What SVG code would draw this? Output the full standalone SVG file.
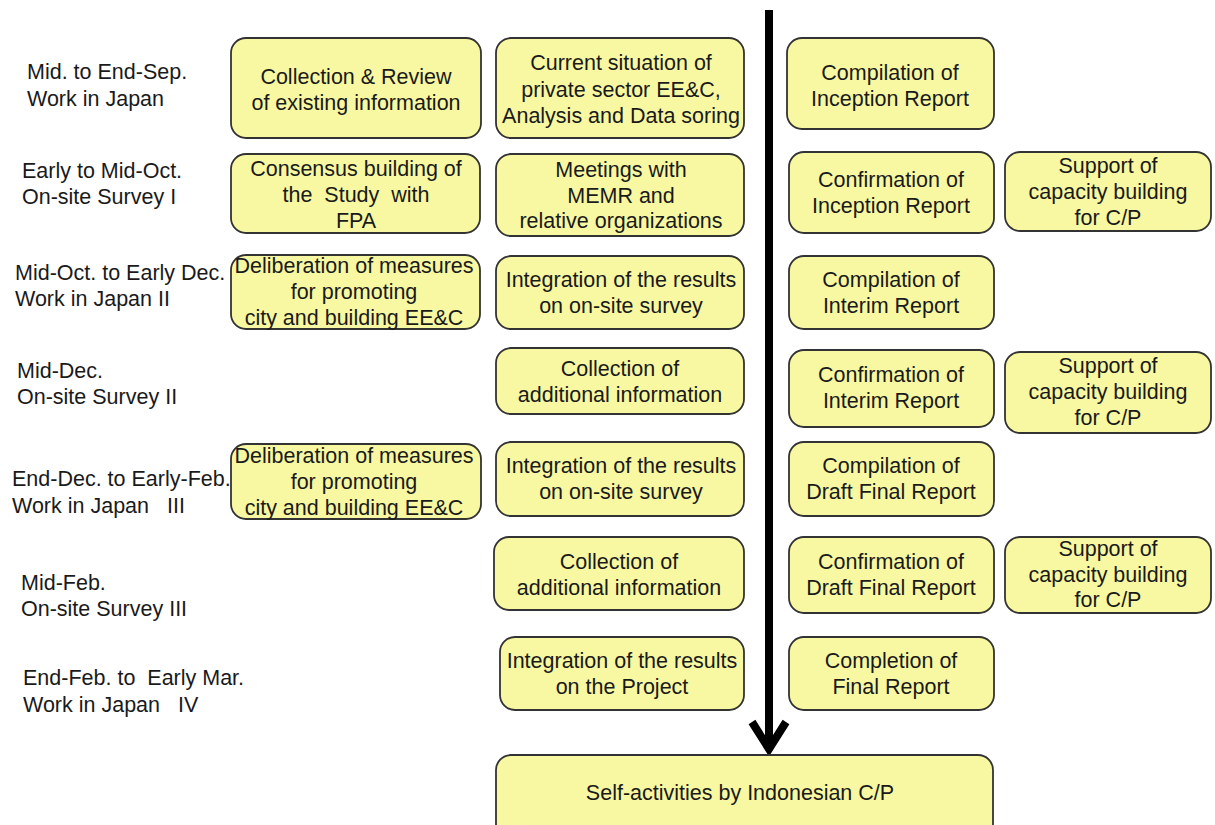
<svg xmlns="http://www.w3.org/2000/svg" width="1215" height="825" viewBox="0 0 1215 825">
<style>
.b{fill:#F8F8A2;stroke:#333;stroke-width:1.8}
text{font-family:"Liberation Sans",Arial,sans-serif;font-size:21.5px;fill:#1a1a1a}
.c{text-anchor:middle}
</style>
<rect width="1215" height="825" fill="#fff"/>
<g id="labels">
<text x="27" y="79">Mid. to End-Sep.</text><text x="27" y="106">Work in Japan</text>
<text x="22" y="178">Early to Mid-Oct.</text><text x="22" y="204">On-site Survey I</text>
<text x="15" y="280">Mid-Oct. to Early Dec.</text><text x="15" y="306">Work in Japan II</text>
<text x="17" y="378">Mid-Dec.</text><text x="17" y="404">On-site Survey II</text>
<text x="12" y="486">End-Dec. to Early-Feb.</text><text x="12" y="513" xml:space="preserve">Work in Japan   III</text>
<text x="21" y="590">Mid-Feb.</text><text x="21" y="616">On-site Survey III</text>
<text x="23" y="685" xml:space="preserve">End-Feb. to  Early Mar.</text><text x="23" y="712" xml:space="preserve">Work in Japan   IV</text>
</g>
<g id="connectors">
<line x1="769" y1="10" x2="769" y2="746" stroke="#000" stroke-width="8"/>
<path d="M752 722 L769 749 L786 722" fill="none" stroke="#000" stroke-width="8" stroke-linejoin="miter"/>
</g>
<g id="n1"><rect class="b" x="231" y="38" width="250" height="100" rx="15"/><text class="c" x="356" y="84">Collection &amp; Review</text><text class="c" x="356" y="110">of existing information</text></g>
<g id="n2"><rect class="b" x="231" y="154" width="249" height="79" rx="15"/><text class="c" x="356" y="176">Consensus building of</text><text class="c" x="356" y="202" xml:space="preserve">the  Study  with</text><text class="c" x="356" y="228">FPA</text></g>
<g id="n3"><rect class="b" x="231" y="255" width="249" height="74" rx="15"/><text class="c" x="354" y="273">Deliberation of measures</text><text class="c" x="354" y="299">for promoting</text><text class="c" x="354" y="325">city and building EE&amp;C</text></g>
<g id="n4"><rect class="b" x="231" y="444" width="250" height="75" rx="15"/><text class="c" x="354" y="463">Deliberation of measures</text><text class="c" x="354" y="489">for promoting</text><text class="c" x="354" y="515">city and building EE&amp;C</text></g>
<g id="n5"><rect class="b" x="496" y="38" width="248" height="100" rx="15"/><text class="c" x="621" y="70">Current situation of</text><text class="c" x="621" y="97">private sector EE&amp;C,</text><text class="c" x="621" y="123">Analysis and Data soring</text></g>
<g id="n6"><rect class="b" x="496" y="154" width="248" height="82" rx="15"/><text class="c" x="621" y="177">Meetings with</text><text class="c" x="621" y="203">MEMR and</text><text class="c" x="621" y="228">relative organizations</text></g>
<g id="n7"><rect class="b" x="496" y="256" width="248" height="73" rx="15"/><text class="c" x="621" y="287">Integration of the results</text><text class="c" x="621" y="313">on on-site survey</text></g>
<g id="n8"><rect class="b" x="496" y="348" width="248" height="66" rx="15"/><text class="c" x="620" y="376">Collection of</text><text class="c" x="620" y="402">additional information</text></g>
<g id="n9"><rect class="b" x="496" y="442" width="248" height="74" rx="15"/><text class="c" x="621" y="473">Integration of the results</text><text class="c" x="621" y="499">on on-site survey</text></g>
<g id="n10"><rect class="b" x="494" y="537" width="250" height="73" rx="15"/><text class="c" x="619" y="569">Collection of</text><text class="c" x="619" y="595">additional information</text></g>
<g id="n11"><rect class="b" x="500" y="637" width="244" height="73" rx="15"/><text class="c" x="622" y="668">Integration of the results</text><text class="c" x="622" y="694">on the Project</text></g>
<g id="n12"><rect class="b" x="787" y="38" width="207" height="91" rx="15"/><text class="c" x="890" y="80">Compilation of</text><text class="c" x="890" y="106">Inception Report</text></g>
<g id="n13"><rect class="b" x="789" y="152" width="205" height="81" rx="15"/><text class="c" x="891" y="187">Confirmation of</text><text class="c" x="891" y="213">Inception Report</text></g>
<g id="n14"><rect class="b" x="789" y="256" width="205" height="73" rx="15"/><text class="c" x="891" y="287">Compilation of</text><text class="c" x="891" y="313">Interim Report</text></g>
<g id="n15"><rect class="b" x="789" y="350" width="205" height="77" rx="15"/><text class="c" x="891" y="382">Confirmation of</text><text class="c" x="891" y="408">Interim Report</text></g>
<g id="n16"><rect class="b" x="789" y="442" width="205" height="74" rx="15"/><text class="c" x="891" y="473">Compilation of</text><text class="c" x="891" y="499">Draft Final Report</text></g>
<g id="n17"><rect class="b" x="789" y="537" width="205" height="76" rx="15"/><text class="c" x="891" y="569">Confirmation of</text><text class="c" x="891" y="595">Draft Final Report</text></g>
<g id="n18"><rect class="b" x="789" y="637" width="205" height="73" rx="15"/><text class="c" x="891" y="668">Completion of</text><text class="c" x="891" y="694">Final Report</text></g>
<g id="n19"><rect class="b" x="1005" y="152" width="206" height="79" rx="15"/><text class="c" x="1108" y="173">Support of</text><text class="c" x="1108" y="199">capacity building</text><text class="c" x="1108" y="225">for C/P</text></g>
<g id="n20"><rect class="b" x="1005" y="352" width="206" height="81" rx="15"/><text class="c" x="1108" y="373">Support of</text><text class="c" x="1108" y="399">capacity building</text><text class="c" x="1108" y="425">for C/P</text></g>
<g id="n21"><rect class="b" x="1005" y="537" width="206" height="76" rx="15"/><text class="c" x="1108" y="556">Support of</text><text class="c" x="1108" y="582">capacity building</text><text class="c" x="1108" y="607">for C/P</text></g>
<g id="n22"><rect class="b" x="496" y="755" width="497" height="85" rx="15"/><text class="c" x="740" y="800">Self-activities by Indonesian C/P</text></g>
</svg>
